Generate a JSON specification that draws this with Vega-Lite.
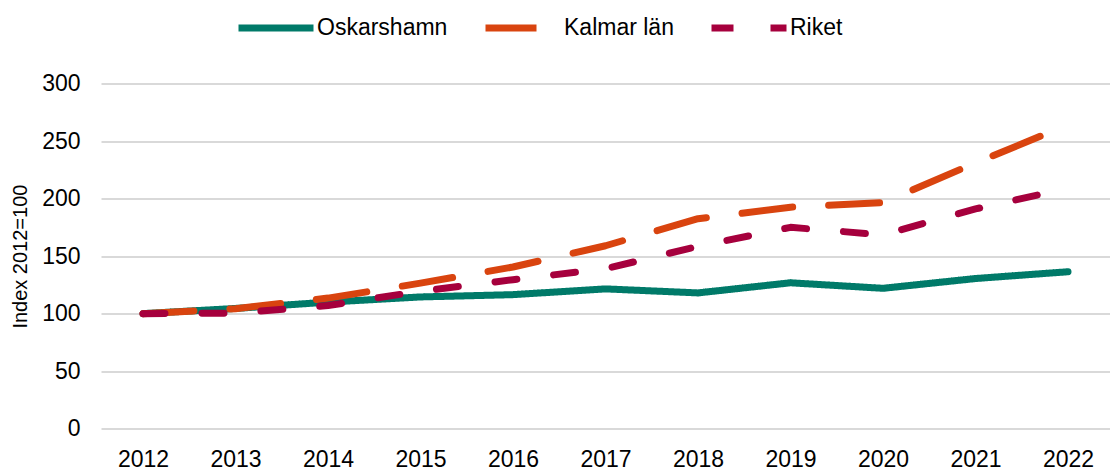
{
  "$schema": "https://vega.github.io/schema/vega-lite/v6.json",
  "width": 1009,
  "height": 345.2,
  "autosize": {"type": "none"},
  "padding": {"left": 101, "top": 83.5, "right": 0, "bottom": 39.3},
  "background": "white",
  "data": {"values": [
    {"year": "2012", "serie": "Oskarshamn", "index": 100},
    {"year": "2013", "serie": "Oskarshamn", "index": 104.5},
    {"year": "2014", "serie": "Oskarshamn", "index": 110},
    {"year": "2015", "serie": "Oskarshamn", "index": 114.5},
    {"year": "2016", "serie": "Oskarshamn", "index": 116.5},
    {"year": "2017", "serie": "Oskarshamn", "index": 121.5},
    {"year": "2018", "serie": "Oskarshamn", "index": 118},
    {"year": "2019", "serie": "Oskarshamn", "index": 126.8},
    {"year": "2020", "serie": "Oskarshamn", "index": 122},
    {"year": "2021", "serie": "Oskarshamn", "index": 130.5},
    {"year": "2022", "serie": "Oskarshamn", "index": 136.4},
    {"year": "2012", "serie": "Kalmar län", "index": 100},
    {"year": "2013", "serie": "Kalmar län", "index": 104.3},
    {"year": "2014", "serie": "Kalmar län", "index": 113.5},
    {"year": "2015", "serie": "Kalmar län", "index": 126.5},
    {"year": "2016", "serie": "Kalmar län", "index": 140.5},
    {"year": "2017", "serie": "Kalmar län", "index": 159},
    {"year": "2018", "serie": "Kalmar län", "index": 182.5},
    {"year": "2019", "serie": "Kalmar län", "index": 192.5},
    {"year": "2020", "serie": "Kalmar län", "index": 196.5},
    {"year": "2021", "serie": "Kalmar län", "index": 231},
    {"year": "2022", "serie": "Kalmar län", "index": 264},
    {"year": "2012", "serie": "Riket", "index": 100},
    {"year": "2013", "serie": "Riket", "index": 100.5},
    {"year": "2014", "serie": "Riket", "index": 107},
    {"year": "2015", "serie": "Riket", "index": 119.5},
    {"year": "2016", "serie": "Riket", "index": 129.5},
    {"year": "2017", "serie": "Riket", "index": 139},
    {"year": "2018", "serie": "Riket", "index": 158.5},
    {"year": "2019", "serie": "Riket", "index": 175},
    {"year": "2020", "serie": "Riket", "index": 168.5},
    {"year": "2021", "serie": "Riket", "index": 191},
    {"year": "2022", "serie": "Riket", "index": 209}
  ]},
  "mark": {"type": "line", "strokeWidth": 7, "strokeCap": "round", "strokeJoin": "round"},
  "encoding": {
    "x": {
      "field": "year", "type": "ordinal",
      "scale": {"type": "point", "padding": 0.454},
      "axis": {"title": null, "labelAngle": 0, "ticks": false, "tickSize": 0, "domain": false, "grid": false,
               "labelFont": "Liberation Sans", "labelFontSize": 23, "labelColor": "#000000", "labelPadding": 19.5}
    },
    "y": {
      "field": "index", "type": "quantitative",
      "scale": {"domain": [0, 300]},
      "axis": {"title": "Index 2012=100", "values": [0, 50, 100, 150, 200, 250, 300],
               "ticks": false, "tickSize": 0, "domain": false, "grid": true, "gridColor": "#d9d9d9", "gridWidth": 2,
               "labelFont": "Liberation Sans", "labelFontSize": 23, "labelColor": "#000000", "labelPadding": 21,
               "titleFont": "Liberation Sans", "titleFontSize": 20, "titleFontWeight": "normal", "titleColor": "#000000", "titlePadding": 11}
    },
    "color": {
      "field": "serie", "type": "nominal",
      "scale": {"domain": ["Oskarshamn", "Kalmar län", "Riket"], "range": ["#007A69", "#D9440F", "#A6003D"]},
      "legend": {"title": null, "orient": "none", "direction": "horizontal", "legendX": 134, "legendY": -96.5,
                 "padding": 0, "symbolType": "stroke", "symbolSize": 5625, "symbolStrokeWidth": 7,
                 "labelFont": "Liberation Sans", "labelFontSize": 23, "labelColor": "#000000",
                 "labelOffset": 0, "columnPadding": 23}
    },
    "strokeDash": {
      "field": "serie", "type": "nominal",
      "scale": {"domain": ["Oskarshamn", "Kalmar län", "Riket"], "range": [[1, 0], [51, 36], [22, 37]]},
      "legend": {"title": null, "orient": "none", "direction": "horizontal", "legendX": 134, "legendY": -96.5,
                 "padding": 0, "symbolType": "stroke", "symbolSize": 5625, "symbolStrokeWidth": 7,
                 "labelFont": "Liberation Sans", "labelFontSize": 23, "labelColor": "#000000",
                 "labelOffset": 0, "columnPadding": 23}
    }
  },
  "config": {"view": {"stroke": null}}
}
